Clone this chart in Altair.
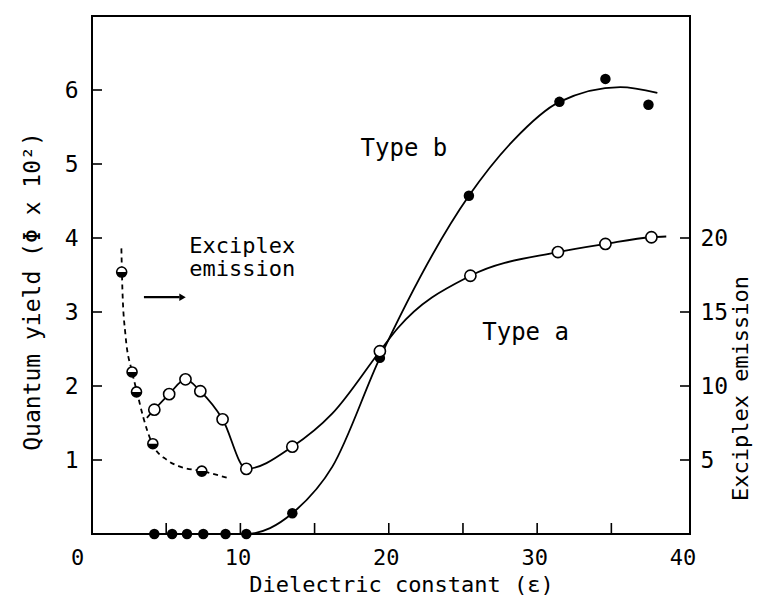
import altair as alt
import pandas as pd

# ---- data ----
# Type b (filled circles)
b_x = [4.2, 5.4, 6.4, 7.5, 9.0, 10.4, 13.5, 19.4, 25.4, 31.5, 34.6, 37.5]
b_y = [0, 0, 0, 0, 0, 0, 0.28, 2.38, 4.57, 5.84, 6.15, 5.80]
# Type a (open circles)
a_x = [4.2, 5.2, 6.3, 7.3, 8.8, 10.4, 13.5, 19.4, 25.5, 31.4, 34.6, 37.7]
a_y = [1.68, 1.89, 2.09, 1.93, 1.55, 0.88, 1.18, 2.47, 3.49, 3.81, 3.92, 4.01]
# Exciplex emission (half-filled circles), on the left scale
e_x = [2.0, 2.7, 3.0, 4.1, 7.4]
e_y = [3.54, 2.19, 1.92, 1.22, 0.85]

# hand-drawn curves
ca_x = [3.7, 4.2, 5.2, 6.3, 7.3, 8.8, 10.4, 13.5, 16.2, 19.4, 20.6, 25.5, 31.4, 34.6, 37.7, 38.7]
ca_y = [1.57, 1.68, 1.89, 2.09, 1.93, 1.55, 0.88, 1.18, 1.63, 2.47, 2.78, 3.49, 3.81, 3.92, 4.01, 4.02]
cb_x = [10.0, 10.4, 12.0, 13.5, 16.2, 19.4, 25.4, 28.4, 31.5, 35.6, 38.1]
cb_y = [0.0, 0.0, 0.08, 0.28, 0.91, 2.38, 4.57, 5.32, 5.84, 6.04, 5.96]
cd_x = [1.98, 2.05, 2.25, 2.7, 3.03, 3.45, 4.04, 5.05, 5.93, 7.4, 9.1]
cd_y = [3.86, 3.3, 2.7, 2.19, 1.92, 1.58, 1.23, 1.0, 0.91, 0.85, 0.76]

x_tick_vals = [5, 10, 15, 20, 25, 30, 35]
x_label_vals = [0, 10, 20, 30, 40]
y_tick_vals = [1, 2, 3, 4, 5, 6]
r_tick_vals = [5, 10, 15, 20]

note_text = ["Exciplex", "emission"]
note_x = [6.55, 6.55]
note_y = [3.80, 3.48]
type_text = ["Type b", "Type a"]
type_x = [18.1, 26.3]
type_y = [5.11, 2.62]

arrow_x = [3.5, 5.9]
arrow_y = [3.2, 3.2]
arrow_head_x = [6.1]
arrow_head_y = [3.2]

W, H = 598, 518
FONT = "DejaVu Sans Mono"
XDOM = [0, 40.3]
YDOM = [0, 7]

xs = alt.Scale(domain=XDOM, nice=False, zero=False)
ys = alt.Scale(domain=YDOM, nice=False, zero=False)

x_axis = alt.Axis(values=x_label_vals, ticks=False, domain=False, grid=False,
                  labelFlush=False, labelPadding=13, labelFontSize=22,
                  labelOffset={"condition": {"test": "datum.value === 0", "value": -15}, "value": -3},
                  title="Dielectric constant (ε)", titleX=309, titleY=57, titleFontSize=22,
                  titleBaseline="alphabetic", titleAnchor="middle")
y_axis = alt.Axis(values=y_tick_vals, ticks=False, domain=False, grid=False,
                  labelPadding=14, title="Quantum yield (Φ x 10²)",
                  titleAngle=270, titleX=-60, titleY=275, titleBaseline="middle",
                  titleAlign="center")

X = lambda f: alt.X(f, type="quantitative", scale=xs, axis=x_axis)
Y = lambda f: alt.Y(f, type="quantitative", scale=ys, axis=y_axis)

df_a = pd.DataFrame({"x": a_x, "y": a_y})
df_b = pd.DataFrame({"x": b_x, "y": b_y})
df_e = pd.DataFrame({"x": e_x, "y": e_y})
df_ca = pd.DataFrame({"x": ca_x, "y": ca_y})
df_cb = pd.DataFrame({"x": cb_x, "y": cb_y})
df_cd = pd.DataFrame({"x": cd_x, "y": cd_y})

line_a = alt.Chart(df_ca).mark_line(color="black", strokeWidth=1.8, interpolate="monotone").encode(
    x=X("x"), y=Y("y"))
line_b = alt.Chart(df_cb).mark_line(color="black", strokeWidth=1.8, interpolate="monotone").encode(
    x=X("x"), y=Y("y"))
line_d = alt.Chart(df_cd).mark_line(color="black", strokeWidth=1.8, strokeDash=[5, 4],
                                    interpolate="monotone").encode(x=X("x"), y=Y("y"))

pts_b = alt.Chart(df_b).mark_point(shape="circle", filled=True, color="black", size=110, opacity=1).encode(
    x=X("x"), y=Y("y"))
pts_a = alt.Chart(df_a).mark_point(shape="circle", filled=True, fill="white", stroke="black",
                                   strokeWidth=1.6, size=125, opacity=1).encode(x=X("x"), y=Y("y"))
pts_e = alt.Chart(df_e).mark_point(shape="circle", filled=True, fill="white", stroke="black",
                                   strokeWidth=1.6, size=100, opacity=1).encode(x=X("x"), y=Y("y"))
half_path = "M-1,0 L1,0 L0.92,0.38 L0.71,0.71 L0.38,0.92 L0,1 L-0.38,0.92 L-0.71,0.71 L-0.92,0.38 Z"
pts_e_half = alt.Chart(df_e).mark_point(shape=half_path, filled=True, color="black", size=100,
                                        opacity=1).encode(x=X("x"), y=Y("y"))

xt = alt.Chart(pd.DataFrame({"t": x_tick_vals})).mark_rule(color="black", strokeWidth=1.6).encode(
    x=X("t"), y=alt.value(H), y2=alt.value(H - 11))
yt = alt.Chart(pd.DataFrame({"t": y_tick_vals})).mark_rule(color="black", strokeWidth=1.6).encode(
    y=Y("t"), x=alt.value(0), x2=alt.value(10))

arrow = alt.Chart(pd.DataFrame({"x": arrow_x, "y": arrow_y})).mark_line(color="black", strokeWidth=2.2).encode(
    x=X("x"), y=Y("y"))
arrow_head = alt.Chart(pd.DataFrame({"x": arrow_head_x, "y": arrow_head_y})).mark_point(
    shape="triangle-right", filled=True, color="black", size=55, opacity=1).encode(x=X("x"), y=Y("y"))

notes = alt.Chart(pd.DataFrame({"x": note_x, "y": note_y, "t": note_text})).mark_text(
    font=FONT, fontSize=22, align="left", baseline="alphabetic", color="black").encode(
    x=X("x"), y=Y("y"), text="t:N")
types = alt.Chart(pd.DataFrame({"x": type_x, "y": type_y, "t": type_text})).mark_text(
    font=FONT, fontSize=24, align="left", baseline="alphabetic", color="black").encode(
    x=X("x"), y=Y("y"), text="t:N")

main = alt.layer(line_a, line_b, line_d, pts_b, pts_a, pts_e, pts_e_half, xt, yt, arrow, arrow_head,
                 notes, types)

rs = alt.Scale(domain=[0, 35], nice=False, zero=False)
r_axis = alt.Axis(orient="right", values=r_tick_vals, ticks=False, domain=False, grid=False,
                  labelPadding=10, title="Exciplex emission", titleAngle=270, titleX=50, titleY=372,
                  titleBaseline="middle", titleAlign="center", titleFontSize=22)
rt = alt.Chart(pd.DataFrame({"t": r_tick_vals})).mark_rule(color="black", strokeWidth=1.6).encode(
    y=alt.Y("t:Q", scale=rs, axis=r_axis), x=alt.value(W - 10), x2=alt.value(W))

chart = alt.layer(main, rt).resolve_scale(y="independent").properties(
    width=W, height=H,
    background="white",
    autosize=alt.AutoSizeParams(type="none"),
    padding={"left": 84, "top": 8, "right": 64, "bottom": 62},
).configure_view(stroke="black", strokeWidth=2).configure_axis(
    labelFont=FONT, labelFontSize=23, labelColor="black",
    titleFont=FONT, titleFontSize=23, titleColor="black", titleFontWeight="normal",
)

chart.save("out.html", embed_options={"renderer": "svg", "actions": False})
